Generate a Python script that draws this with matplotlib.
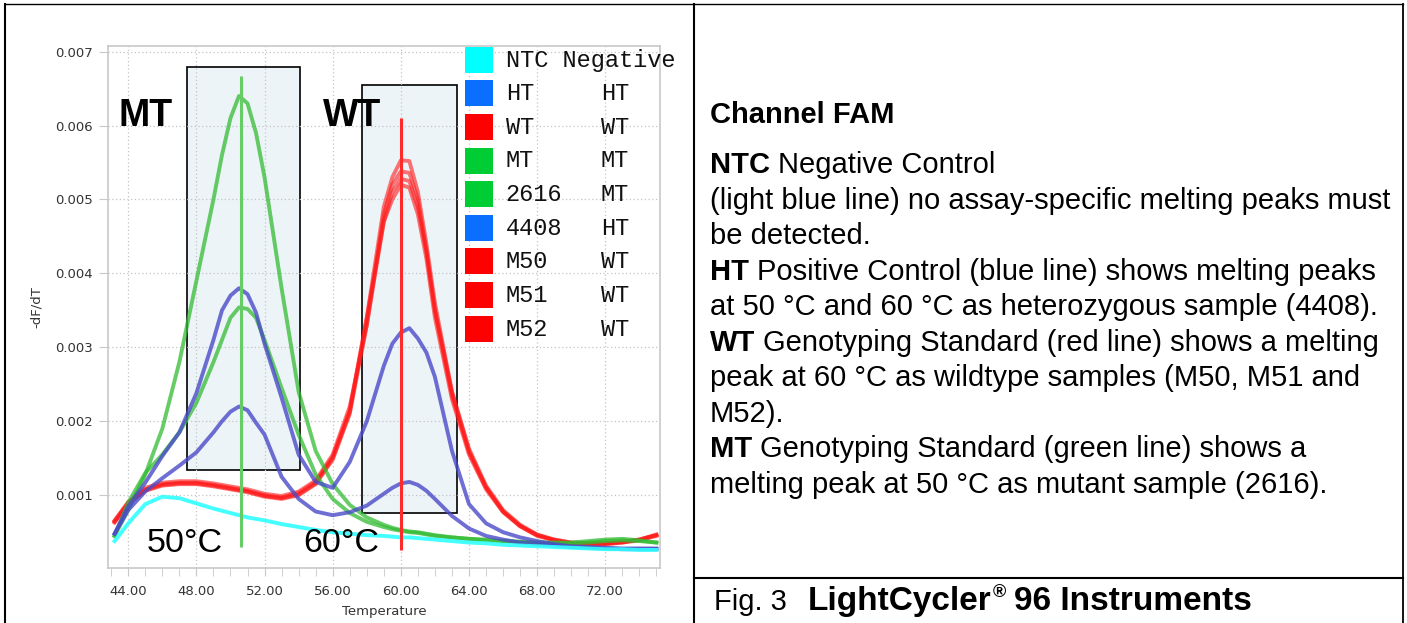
import matplotlib
matplotlib.use('Agg')
import matplotlib.pyplot as plt
from matplotlib.patches import Rectangle
from matplotlib.lines import Line2D
from matplotlib.ticker import FormatStrFormatter

# Melting curve data (-dF/dT)
temps = [43.2, 44, 45, 46, 47, 48, 49, 49.5, 50, 50.5, 51, 51.5, 52, 53, 54, 55, 56, 57, 58, 59,
         59.5, 60, 60.5, 61, 61.5, 62, 63, 64, 65, 66, 67, 68, 69, 70, 71, 72, 73, 74, 75]

ntc = [0.00038, 0.00062, 0.00088, 0.00098, 0.00096, 0.00089, 0.00082, 0.00079, 0.00076, 0.00073,
       0.0007, 0.00068, 0.00066, 0.00061, 0.00057, 0.00053, 0.0005, 0.00048, 0.00046, 0.00045,
       0.00044, 0.00043, 0.00043, 0.00042, 0.00041, 0.0004, 0.00038, 0.00036, 0.00035, 0.00033,
       0.00032, 0.00031, 0.0003, 0.00029, 0.00028, 0.00027, 0.00027, 0.00026, 0.00026]

ht_ctrl = [0.00048, 0.00085, 0.00117, 0.00153, 0.00185, 0.00238, 0.0031, 0.0035, 0.0037, 0.0038,
           0.00372, 0.00347, 0.00305, 0.00232, 0.00155, 0.00118, 0.0011, 0.00145, 0.002, 0.00275,
           0.00305, 0.0032, 0.00326, 0.00312, 0.00293, 0.0026, 0.0016, 0.00088, 0.00062, 0.0005,
           0.00043, 0.00038, 0.00034, 0.00031, 0.0003, 0.00029, 0.00028, 0.00028, 0.00028]

s4408 = [0.00048, 0.0008, 0.00105, 0.00123, 0.0014, 0.00158, 0.00185, 0.002, 0.00213, 0.0022,
         0.00215, 0.00198, 0.00182, 0.00125, 0.00095, 0.00078, 0.00073, 0.00077, 0.00086, 0.00102,
         0.0011, 0.00116, 0.00118, 0.00114, 0.00106, 0.00095, 0.00072, 0.00055, 0.00045, 0.0004,
         0.00036, 0.00034, 0.00032, 0.0003, 0.00029, 0.00028, 0.00027, 0.00027, 0.00027]

mt_ctrl = [0.00045, 0.0008, 0.00128, 0.0019, 0.0028, 0.0039, 0.005, 0.0056, 0.0061, 0.0064,
           0.0063, 0.0059, 0.0053, 0.0038, 0.0024, 0.0016, 0.00115, 0.00087, 0.0007, 0.0006,
           0.00056, 0.00053, 0.00051, 0.0005, 0.00048, 0.00046, 0.00043, 0.00041, 0.0004, 0.00038,
           0.00037, 0.00036, 0.00036, 0.00036, 0.00038, 0.0004, 0.00041, 0.00039, 0.00036]

s2616 = [0.00045, 0.0009, 0.0013, 0.00155, 0.00185, 0.00225, 0.0028, 0.0031, 0.0034, 0.00354,
         0.00352, 0.0034, 0.0031, 0.00245, 0.00182, 0.00128, 0.00095, 0.00076, 0.00064, 0.00057,
         0.00054, 0.00052, 0.0005, 0.00049, 0.00047, 0.00045, 0.00043, 0.00041, 0.00039, 0.00038,
         0.00037, 0.00036, 0.00035, 0.00035, 0.00036, 0.00038, 0.00039, 0.00038, 0.00036]

wt_ctrl = [0.00065, 0.0009, 0.00108, 0.00115, 0.00117, 0.00117, 0.00114, 0.00112, 0.0011, 0.00108,
           0.00106, 0.00103, 0.001, 0.00097, 0.00103, 0.00118, 0.00152, 0.00215, 0.0034, 0.0049,
           0.0053, 0.00553, 0.00552, 0.0051, 0.0044, 0.0036, 0.0024, 0.00163, 0.00113, 0.0008,
           0.0006, 0.00047, 0.0004, 0.00036, 0.00035, 0.00035, 0.00037, 0.0004, 0.00047]

m50 = [0.00063, 0.00088, 0.00106, 0.00113, 0.00115, 0.00115, 0.00112, 0.0011, 0.00108, 0.00106,
       0.00104, 0.00101, 0.00098, 0.00095, 0.001, 0.00115, 0.00148, 0.0021, 0.0033, 0.0048,
       0.0052, 0.00538, 0.00536, 0.005, 0.0043, 0.0035, 0.0024, 0.0016, 0.00111, 0.00078,
       0.00059, 0.00046, 0.00039, 0.00035, 0.00034, 0.00034, 0.00036, 0.00039, 0.00045]

m51 = [0.00066, 0.00091, 0.0011, 0.00117, 0.00119, 0.00119, 0.00116, 0.00114, 0.00112, 0.0011,
       0.00108, 0.00105, 0.00102, 0.00099, 0.00105, 0.0012, 0.00155, 0.0022, 0.0033, 0.0047,
       0.0051, 0.00528, 0.00525, 0.0049, 0.0043, 0.0035, 0.00235, 0.00158, 0.0011, 0.00078,
       0.00058, 0.00046, 0.0004, 0.00036, 0.00035, 0.00035, 0.00037, 0.0004, 0.00046]

m52 = [0.00064, 0.00089, 0.00107, 0.00114, 0.00116, 0.00116, 0.00113, 0.00111, 0.00109, 0.00107,
       0.00105, 0.00102, 0.00099, 0.00096, 0.00101, 0.00116, 0.0015, 0.00212, 0.0034, 0.0047,
       0.005, 0.0052, 0.00516, 0.0048, 0.0042, 0.0034, 0.0023, 0.00155, 0.00108, 0.00077,
       0.00058, 0.00045, 0.00039, 0.00035, 0.00034, 0.00034, 0.00036, 0.0004, 0.00046]

# peak windows (temperature range, -dF/dT range) and peak markers
mt_window = [47.45, 54.07, 0.00134, 0.00679]
wt_window = [57.72, 63.32, 0.00076, 0.00655]
mt_peak = [50.6, 0.0003, 0.00667]
wt_peak = [60.02, 0.00026, 0.0061]

legend_names = ['NTC Negative', 'HT', 'WT', 'MT', '2616', '4408', 'M50', 'M51', 'M52']
legend_genos = ['', 'HT', 'WT', 'MT', 'MT', 'HT', 'WT', 'WT', 'WT']
legend_colors = ['#00ffff', '#0a6eff', '#ff0000', '#00cc33', '#00cc33',
                 '#0a6eff', '#ff0000', '#ff0000', '#ff0000']

W, H = 1407, 623
fig = plt.figure(figsize=(W / 100, H / 100), dpi=100)


def fx(x):
    return x / W


def fy(y):
    return 1 - y / H


ax = fig.add_axes([fx(108.3), fy(567.7), (660 - 108.3) / W, (567.7 - 45.7) / H])

# shaded peak windows
for x0, x1, y0, y1 in [mt_window, wt_window]:
    ax.add_patch(Rectangle((x0, y0), x1 - x0, y1 - y0, facecolor='#edf4f8',
                           edgecolor='black', lw=1.2, zorder=1))

# curves
for y in [wt_ctrl, m50, m51, m52]:
    ax.plot(temps, y, color='#ff1a1a', lw=2.8, alpha=0.6, zorder=2)
for y in [mt_ctrl, s2616]:
    ax.plot(temps, y, color='#33bb33', lw=2.8, alpha=0.75, zorder=2)
for y in [ht_ctrl, s4408]:
    ax.plot(temps, y, color='#4a4ac8', lw=2.8, alpha=0.8, zorder=2)
ax.plot(temps, ntc, color='#30ffff', lw=2.8, alpha=0.9, zorder=2)

ax.vlines(mt_peak[0], mt_peak[1], mt_peak[2], color='#66cc66', lw=2.2, zorder=3)
ax.vlines(wt_peak[0], wt_peak[1], wt_peak[2], color='#ff2a2a', lw=2.2, zorder=3)

ax.set_xlim(42.83, 75.21)
ax.set_ylim(0.00002, 0.00708)
ax.set_xticks(range(44, 73, 4))
ax.set_xticks(range(43, 76), minor=True)
ax.set_yticks([0.001, 0.002, 0.003, 0.004, 0.005, 0.006, 0.007])
ax.xaxis.set_major_formatter(FormatStrFormatter('%.2f'))
ax.yaxis.set_major_formatter(FormatStrFormatter('%.3f'))
ax.tick_params(axis='x', which='both', length=5.8, color='#c8c8c8', pad=6.5,
               labelsize=9.5, labelcolor='#333333')
ax.tick_params(axis='y', length=6.5, color='#c8c8c8', pad=4.5,
               labelsize=9.5, labelcolor='#333333')
ax.grid(True, which='major', linestyle=(0, (1, 2)), color='#c4c4c4', lw=0.9)
for s in ax.spines.values():
    s.set_color('#c8c8c8')
    s.set_linewidth(1.2)

fig.text(fx(36.7), fy(307.5), '-dF/dT', rotation=90, ha='center', va='center',
         fontsize=9.5, color='#333333')
fig.text(fx(384.2), fy(611.7), 'Temperature', ha='center', va='center',
         fontsize=9.5, color='#333333')

# annotations on the chart
big = dict(family='Liberation Sans', va='baseline', color='black')
fig.text(fx(118.3), fy(126), 'MT', fontsize=27, weight='bold', **big)
fig.text(fx(323.3), fy(126), 'WT', fontsize=27, weight='bold', **big)
fig.text(fx(146.7), fy(551.7), '50°C', fontsize=24.5, **big)
fig.text(fx(303.3), fy(551.7), '60°C', fontsize=24.5, **big)

# legend drawn as a two-column list
for i, (name, geno, col) in enumerate(zip(legend_names, legend_genos, legend_colors)):
    yb = 66.7 + i * 33.6
    fig.add_artist(Rectangle((fx(465), fy(yb + 6)), 28 / W, 26 / H,
                             transform=fig.transFigure, facecolor=col, edgecolor='none'))
    fig.text(fx(505.7), fy(yb), name, family='Liberation Mono', fontsize=17,
             va='baseline', color='#111111')
    if geno:
        fig.text(fx(601), fy(yb), geno, family='Liberation Mono', fontsize=17,
                 va='baseline', color='#111111')

# table borders
def line(x0, y0, x1, y1, lw):
    fig.add_artist(Line2D([fx(x0), fx(x1)], [fy(y0), fy(y1)], color='black', lw=lw,
                          transform=fig.transFigure))


line(5, 3.5, 1402.5, 3.5, 1.0)
line(5, 3.5, 5, 623, 1.5)
line(693.5, 3.5, 693.5, 623, 1.5)
line(1402.5, 3.5, 1402.5, 623, 1.3)
line(693.5, 577.5, 1402.5, 577.5, 1.5)

# description text
renderer = fig.canvas.get_renderer()
inv = fig.transFigure.inverted()
body = dict(family='Liberation Sans', fontsize=21, va='baseline', color='black')
fig.text(fx(710), fy(123.3), 'Channel FAM', weight='bold', **body)

desc = [
    ('NTC', 'Negative Control'),
    ('', '(light blue line) no assay-specific melting peaks must'),
    ('', 'be detected.'),
    ('HT', 'Positive Control (blue line) shows melting peaks'),
    ('', 'at 50 °C and 60 °C as heterozygous sample (4408).'),
    ('WT', 'Genotyping Standard (red line) shows a melting'),
    ('', 'peak at 60 °C as wildtype samples (M50, M51 and'),
    ('', 'M52).'),
    ('MT', 'Genotyping Standard (green line) shows a'),
    ('', 'melting peak at 50 °C as mutant sample (2616).'),
]
for i, (bold, rest) in enumerate(desc):
    yb = fy(173.3 + i * 35.5)
    x = fx(710)
    if bold:
        t = fig.text(x, yb, bold, weight='bold', **body)
        bb = t.get_window_extent(renderer)
        x = inv.transform((bb.x1 + 8.1, 0))[0]
    fig.text(x, yb, rest, **body)

cap = dict(family='Liberation Sans', va='baseline', color='black')
fig.text(fx(714), fy(610), 'Fig. 3', fontsize=21, **cap)
t = fig.text(fx(808), fy(610), 'LightCycler', fontsize=24, weight='bold', **cap)
bb = t.get_window_extent(renderer)
t = fig.text(inv.transform((bb.x1 + 1, 0))[0], fy(597), '®', fontsize=13, weight='bold', **cap)
bb = t.get_window_extent(renderer)
fig.text(inv.transform((bb.x1 + 8, 0))[0], fy(610), '96 Instruments', fontsize=24,
         weight='bold', **cap)

fig.savefig('out.png', dpi=100)
